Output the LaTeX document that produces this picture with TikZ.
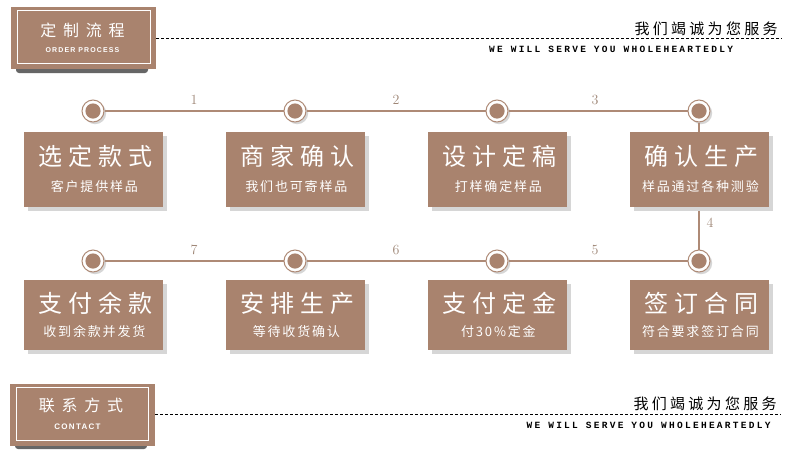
\documentclass[tikz,border=0pt]{standalone}
\usepackage{fontspec}
\usetikzlibrary{shadows}
\newfontfamily\cjkbig[LetterSpace=26]{Noto Sans CJK SC}
\newfontfamily\cjksub[LetterSpace=14]{Noto Sans CJK SC}
\newfontfamily\cjkhead[LetterSpace=42]{Noto Sans CJK SC}
\newfontfamily\cjkserve[LetterSpace=22]{Noto Sans CJK SC}
\newfontfamily\engserve[LetterSpace=24]{Liberation Mono}
\newfontfamily\enghead[LetterSpace=16]{Liberation Sans}
\definecolor{boxc}{HTML}{A9836E}
\definecolor{linec}{HTML}{AE8A76}
\definecolor{numc}{HTML}{9E8676}
\begin{document}
\begin{tikzpicture}[x=1pt,y=-1pt,
  hbox/.style={fill=boxc, minimum width=145pt, minimum height=62pt, inner sep=0pt},
  hshadow/.style={fill=black!60, rounded corners=3pt},
  inner/.style={draw=white, line width=0.9pt},
  htitle/.style={text=white, font=\cjkhead\fontsize{16}{16}\selectfont, inner sep=0pt, xshift=3pt},
  hsub/.style={text=white, font=\enghead\bfseries\fontsize{7}{7}\selectfont, inner sep=0pt},
  dashline/.style={draw=black, line width=0.8pt, dash pattern=on 3pt off 2pt},
  serve/.style={text=black, font=\cjkserve\fontsize{15}{15}\selectfont, inner sep=0pt, xshift=1.6pt},
  servee/.style={text=black, font=\engserve\bfseries\fontsize{9.5}{9.5}\selectfont, inner sep=0pt, xshift=1.1pt},
  dot/.style={circle, draw=linec, line width=1pt, fill=white, minimum size=22pt, inner sep=0pt,
    drop shadow={shadow xshift=2.2pt, shadow yshift=-2.2pt, fill=black!16, opacity=1},
    path picture={\fill[boxc] (path picture bounding box.center) circle (7.6pt);}},
  conn/.style={draw=linec, line width=1.3pt},
  num/.style={text=numc, font=\fontsize{14}{14}\selectfont, inner sep=0pt},
  pbox/.style={fill=boxc, minimum width=139pt, inner sep=0pt,
    drop shadow={shadow xshift=4pt, shadow yshift=-4pt, fill=black!16, opacity=1}},
  ttl/.style={text=white, font=\cjkbig\fontsize{24}{24}\selectfont, inner sep=0pt, xshift=2pt},
  sttl/.style={text=white, font=\cjksub\fontsize{13}{13}\selectfont, inner sep=0pt, xshift=0.9pt}
]
\fill[white] (0,0) rectangle (790,464);
\useasboundingbox (0,0) rectangle (790,464);

% ---------- top header ----------
\fill[hshadow] (16,64) rectangle (148,73);
\node[hbox] (h1) at (83.5,38) {};
\draw[inner] ([xshift=7pt,yshift=-4pt]h1.north west) rectangle ([xshift=-6pt,yshift=6pt]h1.south east);
\node[htitle] (h1t) at (79.5,30) {定制流程};
\node[hsub] (h1s) at (82.5,50) {ORDER PROCESS};
\coordinate (d1) at (782,38);
\draw[dashline] (h1.east) -- (d1);
\node[serve] (s1) at (704.5,29) {我们竭诚为您服务};
\node[servee] (e1) at (610,49) {WE WILL SERVE YOU WHOLEHEARTEDLY};

% ---------- circles ----------
\node[dot] (c1) at (93,111) {};
\node[dot] (c2) at (295,111) {};
\node[dot] (c3) at (497,111) {};
\node[dot] (c4) at (699,111) {};
\node[dot] (c5) at (699,261) {};
\node[dot] (c6) at (497,261) {};
\node[dot] (c7) at (295,261) {};
\node[dot] (c8) at (93,261) {};

% ---------- connectors ----------
\draw[conn] (c1) -- node[num, midway, yshift=11pt] (n1) {1} (c2);
\draw[conn] (c2) -- node[num, midway, yshift=11pt] (n2) {2} (c3);
\draw[conn] (c3) -- node[num, midway, yshift=11pt, xshift=-3pt] (n3) {3} (c4);
\draw[conn] (c4) -- node[num, pos=0.79, xshift=11pt] (n4) {4} (c5);
\draw[conn] (c5) -- node[num, midway, yshift=11pt, xshift=-3pt] (n5) {5} (c6);
\draw[conn] (c6) -- node[num, midway, yshift=11pt] (n6) {6} (c7);
\draw[conn] (c7) -- node[num, midway, yshift=11pt] (n7) {7} (c8);

% ---------- step boxes, row 1 ----------
\node[pbox, minimum height=75pt] (b1) at (93.5,169) {};
\node[pbox, minimum height=75pt] (b2) at (295.5,169) {};
\node[pbox, minimum height=75pt] (b3) at (497.5,169) {};
\node[pbox, minimum height=75pt] (b4) at (699.5,169) {};
\node[ttl] (t1) at ([yshift=13pt]b1.center) {选定款式};
\node[sttl] (u1) at ([yshift=-18pt]b1.center) {客户提供样品};
\node[ttl] (t2) at ([yshift=13pt]b2.center) {商家确认};
\node[sttl] (u2) at ([yshift=-18pt]b2.center) {我们也可寄样品};
\node[ttl] (t3) at ([yshift=13pt]b3.center) {设计定稿};
\node[sttl] (u3) at ([yshift=-18pt]b3.center) {打样确定样品};
\node[ttl] (t4) at ([yshift=13pt]b4.center) {确认生产};
\node[sttl] (u4) at ([yshift=-18pt]b4.center) {样品通过各种测验};

% ---------- step boxes, row 2 ----------
\node[pbox, minimum height=70pt] (b8) at (93.5,315) {};
\node[pbox, minimum height=70pt] (b7) at (295.5,315) {};
\node[pbox, minimum height=70pt] (b6) at (497.5,315) {};
\node[pbox, minimum height=70pt] (b5) at (699.5,315) {};
\node[ttl] (t8) at ([yshift=12pt]b8.center) {支付余款};
\node[sttl] (u8) at ([yshift=-17pt]b8.center) {收到余款并发货};
\node[ttl] (t7) at ([yshift=12pt]b7.center) {安排生产};
\node[sttl] (u7) at ([yshift=-17pt]b7.center) {等待收货确认};
\node[ttl] (t6) at ([yshift=12pt]b6.center) {支付定金};
\node[sttl] (u6) at ([yshift=-17pt]b6.center) {付30\%定金};
\node[ttl] (t5) at ([yshift=12pt]b5.center) {签订合同};
\node[sttl] (u5) at ([yshift=-17pt]b5.center) {符合要求签订合同};

% ---------- bottom header ----------
\fill[hshadow] (15,440) rectangle (147,449);
\node[hbox] (h2) at (82.5,414.5) {};
\draw[inner] ([xshift=7pt,yshift=-4pt]h2.north west) rectangle ([xshift=-7pt,yshift=5pt]h2.south east);
\node[htitle] (h2t) at (78,405) {联系方式};
\node[hsub, font=\enghead\bfseries\fontsize{8}{8}\selectfont] (h2s) at (77.5,427) {CONTACT};
\coordinate (d2) at (781,414);
\draw[dashline] (h2.east |- d2) -- (d2);
\node[serve] (s2) at (703.5,404) {我们竭诚为您服务};
\node[servee] (e2) at (647.5,425) {WE WILL SERVE YOU WHOLEHEARTEDLY};
\end{tikzpicture}
\end{document}
